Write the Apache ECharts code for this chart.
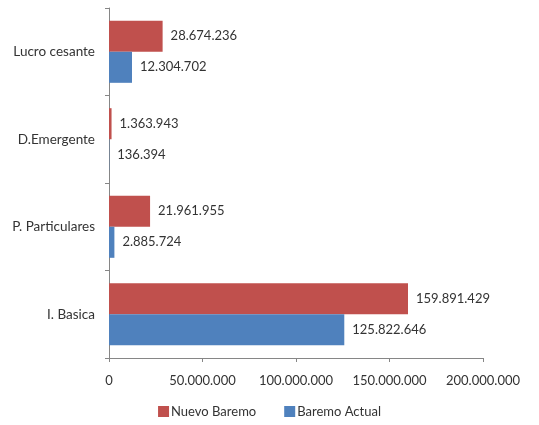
<!DOCTYPE html>
<html><head><meta charset="utf-8">
<script src="https://cdn.jsdelivr.net/npm/echarts@6/dist/echarts.min.js"></script>
<style>html,body{margin:0;padding:0;background:#fff}#c{width:539px;height:425px}</style>
</head><body><div id="c"></div>
<script>
const categories = ['I. Basica', 'P. Particulares', 'D.Emergente', 'Lucro cesante'];
const nuevoBaremo = [159891429, 21961955, 1363943, 28674236];
const baremoActual = [125822646, 2885724, 136394, 12304702];
const xTicks = { min: 0, max: 200000000, interval: 50000000 };

function fmt(v) {
  return String(Math.round(v)).replace(/\B(?=(\d{3})+(?!\d))/g, '.');
}
const font = 'Lato, "Noto Sans", sans-serif';
const txt = '#333333';
const chart = echarts.init(document.getElementById('c'));
chart.setOption({
  animation: false,
  textStyle: { fontFamily: font },
  grid: { left: 109, right: 56, top: 8, bottom: 67, containLabel: false },
  legend: {
    data: ['Nuevo Baremo', 'Baremo Actual'],
    bottom: 2, left: 'center',
    itemWidth: 11, itemHeight: 11, itemGap: 28,
    icon: 'rect',
    textStyle: { fontSize: 13, color: txt, fontFamily: font, padding: [0, 0, 0, -3] }
  },
  xAxis: {
    type: 'value', min: xTicks.min, max: xTicks.max, interval: xTicks.interval,
    axisLine: { show: true, lineStyle: { color: '#868686' } },
    axisTick: { show: true, length: 4, lineStyle: { color: '#868686' } },
    splitLine: { show: false },
    axisLabel: { formatter: fmt, fontSize: 13, color: txt, margin: 16, fontFamily: font }
  },
  yAxis: {
    type: 'category', data: categories,
    axisLine: { lineStyle: { color: '#868686' } },
    axisTick: { show: true, length: 4, lineStyle: { color: '#868686' } },
    axisLabel: { fontSize: 13.5, color: txt, margin: 14, fontFamily: font }
  },
  series: [
    {
      name: 'Nuevo Baremo', type: 'bar', data: nuevoBaremo,
      barGap: '0%', barCategoryGap: '29%',
      itemStyle: { color: '#C0504D' },
      label: { show: true, position: 'right', distance: 8, formatter: p => fmt(p.value), fontSize: 13, color: txt, fontFamily: font }
    },
    {
      name: 'Baremo Actual', type: 'bar', data: baremoActual,
      barGap: '0%', barCategoryGap: '29%',
      itemStyle: { color: '#4F81BD' },
      label: { show: true, position: 'right', distance: 8, formatter: p => fmt(p.value), fontSize: 13, color: txt, fontFamily: font }
    }
  ]
});
</script></body></html>
